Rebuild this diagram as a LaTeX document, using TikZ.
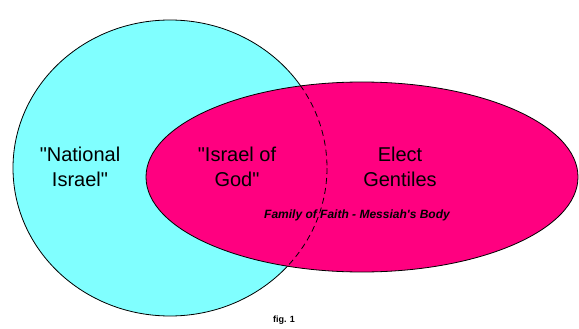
\documentclass[tikz,border=0pt]{standalone}
\usepackage{fontspec}
\newfontfamily\vennfont{Liberation Sans}
\usetikzlibrary{calc}
\definecolor{natcyan}{RGB}{128,255,255}
\definecolor{faithpink}{RGB}{255,0,128}

\begin{document}
\begin{tikzpicture}[x=1pt,y=-1pt,
    bigtext/.style={align=center, font=\vennfont\fontsize{20}{25}\selectfont},
    smalltext/.style={font=\vennfont\fontsize{12}{13}\selectfont\bfseries\itshape}]
        \useasboundingbox (0,0) rectangle (579,329);
        % Coordinates
        \coordinate (N) at (170,168);
        \coordinate (E) at (362,177);
        
        % National Israel (circle)
        \draw[line width=0.8pt, fill=natcyan] (N) ellipse [x radius=157, y radius=148];
        
        % Elect (ellipse) on top
        \draw[line width=0.8pt, fill=faithpink] (E) ellipse [x radius=216, y radius=95];
        
        % Hidden edge of circle, dashed
        \begin{scope}
            \clip (E) ellipse [x radius=216, y radius=95];
            \draw[line width=0.8pt, dash pattern=on 6pt off 4pt] (N) ellipse [x radius=157, y radius=148];
        \end{scope}
        
        % Labels
        \node[bigtext] (nat) at (80,167) {"National\\Israel"};
        \node[bigtext] (god) at (237,167) {"Israel of\\God"};
        \node[bigtext] (gen) at (400,167) {Elect\\Gentiles};
        \node[smalltext] (faith) at (357,215) {Family of Faith - Messiah's Body};
        \node[font=\vennfont\fontsize{9}{10}\selectfont\bfseries] (fig) at (284,320) {fig. 1};
    \end{tikzpicture}
\end{document}
